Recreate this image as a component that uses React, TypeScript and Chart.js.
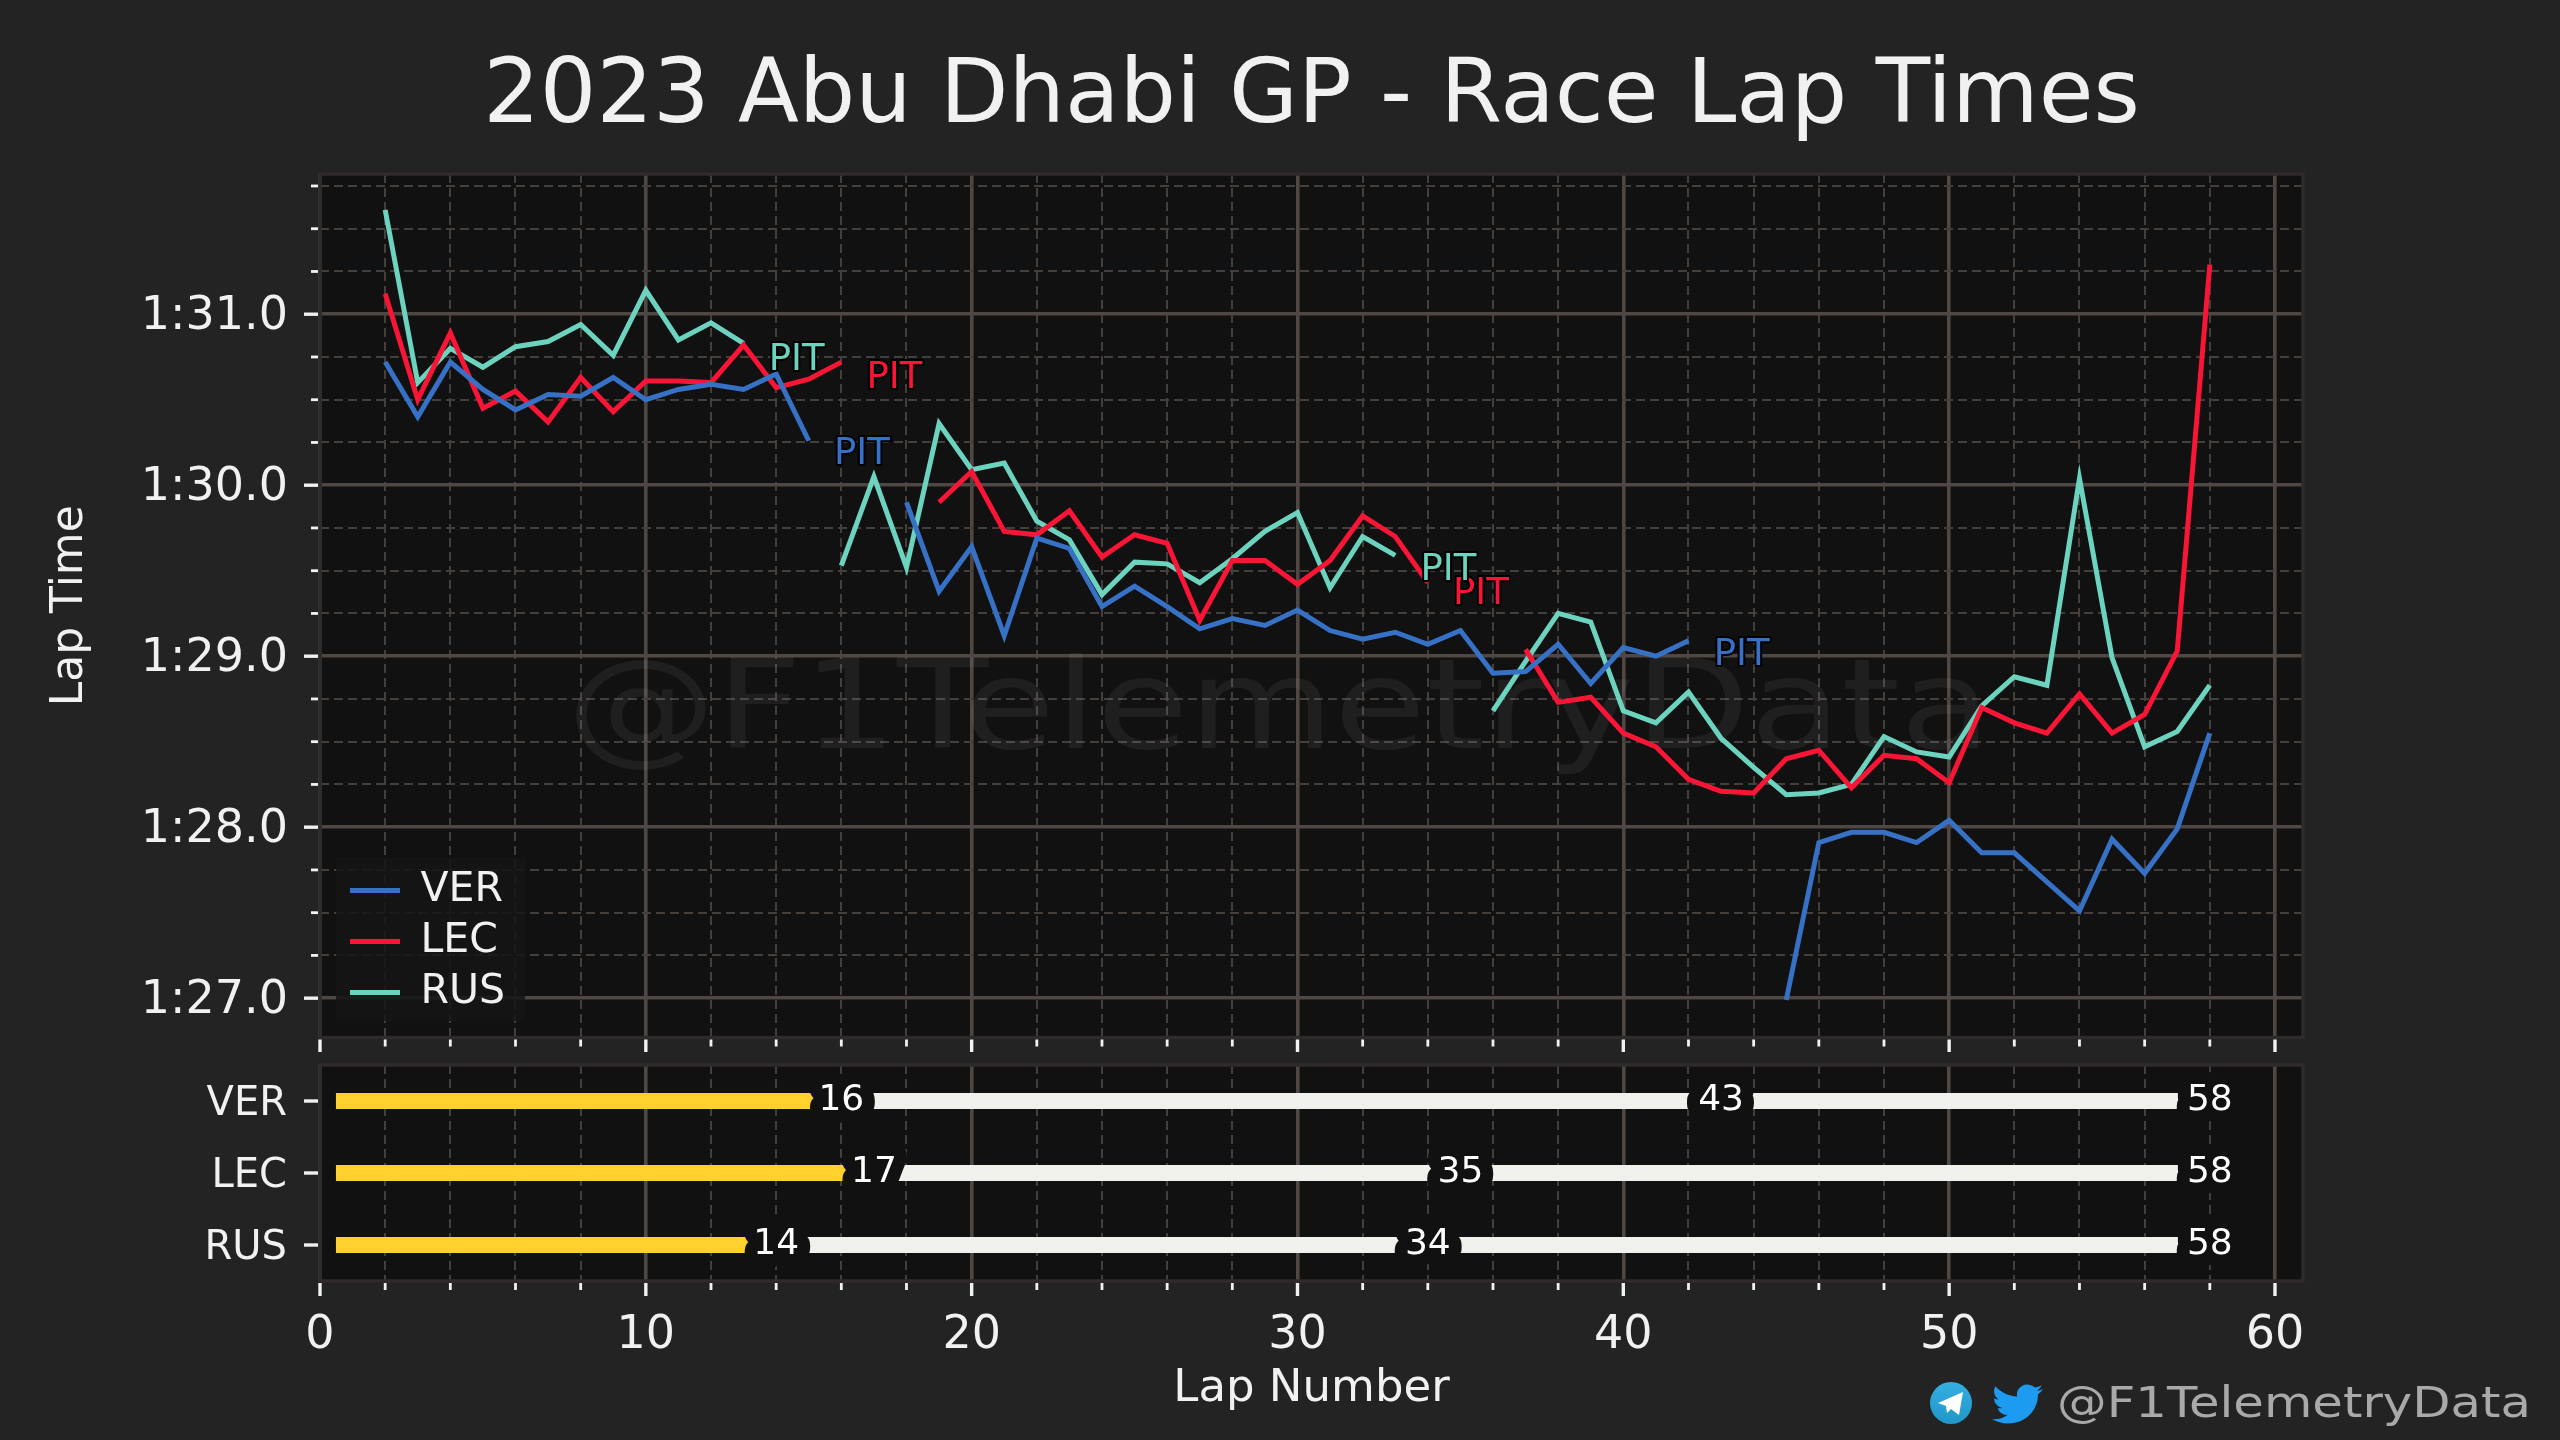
import React, { useEffect, useRef } from "react";
import { Chart, registerables } from "chart.js";

Chart.register(...registerables);

const FONT = "'DejaVu Sans'";
const TITLE = "2023 Abu Dhabi GP - Race Lap Times";
const WATERMARK = "@F1TelemetryData";
const LAP_START = 2;

const verLaps = [
  90.72, 90.40, 90.72, 90.56, 90.44, 90.53, 90.52, 90.63, 90.50, 90.56, 90.59, 90.56, 90.65, 90.26,
  null, null,
  89.90, 89.38, 89.64, 89.12, 89.69, 89.63, 89.29, 89.41, 89.29, 89.16, 89.22, 89.18, 89.27, 89.15, 89.10, 89.14, 89.07, 89.15, 88.90, 88.91, 89.07, 88.84, 89.05, 89.00, 89.09,
  null, null,
  86.99, 87.91, 87.97, 87.97, 87.91, 88.04, 87.85, 87.85, 87.68, 87.51, 87.93, 87.73, 87.99, 88.55,
];
const lecLaps = [
  91.12, 90.50, 90.89, 90.45, 90.55, 90.37, 90.63, 90.43, 90.61, 90.61, 90.60, 90.82, 90.57, 90.62, 90.72,
  null, null,
  89.90, 90.08, 89.73, 89.71, 89.85, 89.58, 89.71, 89.66, 89.21, 89.56, 89.56, 89.42, 89.56, 89.82, 89.70, 89.43,
  null, null,
  89.04, 88.73, 88.76, 88.55, 88.47, 88.28, 88.21, 88.20, 88.40, 88.45, 88.23, 88.42, 88.40, 88.26, 88.70, 88.61, 88.55, 88.78, 88.55, 88.66, 89.03, 91.29,
];
const rusLaps = [
  91.61, 90.60, 90.80, 90.69, 90.81, 90.84, 90.94, 90.76, 91.14, 90.85, 90.95, 90.83,
  null, null,
  89.53, 90.05, 89.52, 90.36, 90.09, 90.13, 89.79, 89.68, 89.36, 89.55, 89.54, 89.43, 89.57, 89.73, 89.84, 89.40, 89.70, 89.59,
  null, null,
  88.68, 88.97, 89.25, 89.20, 88.68, 88.61, 88.79, 88.52, 88.35, 88.19, 88.20, 88.25, 88.53, 88.44, 88.41, 88.71, 88.88, 88.83, 90.04, 88.99, 88.47, 88.56, 88.83,
];

const drivers = ["VER", "LEC", "RUS"];
const driverColors = ["#3671C6", "#F91536", "#6CD3BF"];
const lapSeries = [verLaps, lecLaps, rusLaps];

const pitLapsVer = [16, 43];
const pitLapsLec = [17, 35];
const pitLapsRus = [14, 34];
const pitLabelYVer = [90.2, 89.02];
const pitLabelYLec = [90.64, 89.38];
const pitLabelYRus = [90.745, 89.52];
const stintStart = 0.5;
const pitLaps = [pitLapsVer, pitLapsLec, pitLapsRus];
const pitLabelY = [pitLabelYVer, pitLabelYLec, pitLabelYRus];
const stintEnd3 = [58, 58, 58];
const stintColors = ["#FFD12E", "#F0F0EC", "#F0F0EC"];

const BG = "#232323";
const PLOT = "#111111";
const SPINE = "#2e2b2a";
const MAJOR = "#4e4743";
const MINOR = "#453f3c";
const TEXT = "#f1f1f1";

const X_MAX = 60.86;
const TOP_H = 1052;
const BOT_H = 388;
const PAD_RIGHT = 257;

function fitText(ctx: any, text: string, cx: number, cy: number, width: number, px: number, color: string) {
  ctx.save();
  ctx.font = `${px}px ${FONT}`;
  ctx.textAlign = "center";
  ctx.textBaseline = "middle";
  const m = ctx.measureText(text).width;
  ctx.translate(cx, cy);
  ctx.scale(width / m, 1);
  ctx.fillStyle = color;
  ctx.fillText(text, 0, 0);
  ctx.restore();
}

function drawTick(ctx: any, x1: number, y1: number, x2: number, y2: number, w: number) {
  ctx.lineWidth = w;
  ctx.strokeStyle = TEXT;
  ctx.beginPath();
  ctx.moveTo(x1, y1);
  ctx.lineTo(x2, y2);
  ctx.stroke();
}

const framePlugin = {
  id: "frame",
  beforeDraw(chart: any) {
    const { ctx, chartArea: a } = chart;
    ctx.save();
    ctx.fillStyle = BG;
    ctx.fillRect(0, 0, chart.width, chart.height);
    ctx.fillStyle = PLOT;
    ctx.fillRect(a.left, a.top, a.right - a.left, a.bottom - a.top);
    ctx.restore();
  },
  beforeDatasetsDraw(chart: any) {
    const { ctx, chartArea: a } = chart;
    ctx.save();
    ctx.strokeStyle = SPINE;
    ctx.lineWidth = 3.5;
    ctx.strokeRect(a.left, a.top, a.right - a.left, a.bottom - a.top);
    ctx.restore();
  },
  afterDraw(chart: any) {
    const { ctx, chartArea: a, scales } = chart;
    ctx.save();
    const xs = scales.x;
    xs.ticks.forEach((t: any, i: number) => {
      const major = t.value % 10 === 0;
      const px = xs.getPixelForTick(i);
      drawTick(ctx, px, a.bottom + 2, px, a.bottom + (major ? 15 : 9), major ? 3.4 : 2.8);
    });
    const ys = scales.y;
    ys.ticks.forEach((t: any, i: number) => {
      const major = ys.type === "category" || t.value % 1 === 0;
      const py = ys.getPixelForTick(i);
      drawTick(ctx, a.left - 2, py, a.left - (major ? 16 : 9), py, major ? 3.4 : 2.8);
    });
    ctx.restore();
  },
};

const topPlugin = {
  id: "topExtras",
  afterLayout(chart: any) {
    const l = chart.legend;
    if (!l) return;
    l.left = chart.chartArea.left + 20;
    l.right = chart.chartArea.right;
    l.top = 860;
    l.bottom = chart.chartArea.bottom;
    if (!l.__wrapped) {
      const orig = l.draw;
      l.__wrapped = true;
      l.draw = function () {
        const c = chart.ctx;
        c.save();
        c.fillStyle = "rgba(21,21,21,0.85)";
        c.fillRect(336, 858, 189, 163);
        c.restore();
        orig.call(l);
      };
    }
  },
  beforeDatasetsDraw(chart: any) {
    fitText(chart.ctx, WATERMARK, 1279, 716, 1425, 125, "rgba(255,255,255,0.06)");
  },
  afterDatasetsDraw(chart: any) {
    const { ctx, scales } = chart;
    ctx.save();
    ctx.font = `37px ${FONT}`;
    ctx.textAlign = "center";
    ctx.textBaseline = "middle";
    ctx.lineJoin = "round";
    pitLaps.forEach((laps, d) => {
      laps.forEach((lap, i) => {
        const px = scales.x.getPixelForValue(lap + 0.63);
        const py = scales.y.getPixelForValue(pitLabelY[d][i]) + 3;
        ctx.lineWidth = 4;
        ctx.strokeStyle = "#000000";
        ctx.strokeText("PIT", px, py);
        ctx.fillStyle = driverColors[d];
        ctx.fillText("PIT", px, py);
      });
    });
    ctx.restore();
  },
};

const TWITTER =
  "M23.953 4.57a10 10 0 01-2.825.775 4.958 4.958 0 002.163-2.723c-.951.555-2.005.959-3.127 1.184a4.92 4.92 0 00-8.384 4.482C7.69 8.095 4.067 6.13 1.64 3.162a4.822 4.822 0 00-.666 2.475c0 1.71.87 3.213 2.188 4.096a4.904 4.904 0 01-2.228-.616v.06a4.923 4.923 0 003.946 4.827 4.996 4.996 0 01-2.212.085 4.936 4.936 0 004.604 3.417 9.867 9.867 0 01-6.102 2.105c-.39 0-.779-.023-1.17-.067a13.995 13.995 0 007.557 2.209c9.053 0 13.998-7.496 13.998-13.985 0-.21 0-.42-.015-.63A9.935 9.935 0 0024 4.59z";

const bottomPlugin = {
  id: "bottomExtras",
  afterDatasetsDraw(chart: any) {
    const { ctx, scales } = chart;
    ctx.save();
    ctx.font = `36px ${FONT}`;
    ctx.textAlign = "center";
    ctx.textBaseline = "middle";
    ctx.lineJoin = "round";
    drivers.forEach((name, d) => {
      const py = scales.y.getPixelForValue(d);
      const ends = [pitLaps[d][0], pitLaps[d][1], stintEnd3[d]];
      ends.forEach((lap) => {
        const px = scales.x.getPixelForValue(lap);
        ctx.lineWidth = 26;
        ctx.strokeStyle = PLOT;
        ctx.strokeText(String(lap), px, py);
        ctx.fillStyle = "#ffffff";
        ctx.fillText(String(lap), px, py);
      });
    });
    ctx.restore();
  },
  afterDraw(chart: any) {
    const { ctx } = chart;
    const off = TOP_H;
    ctx.save();
    fitText(ctx, WATERMARK, 2294, 1406 - off, 474, 42, "#a9a9a9");
    const g = ctx.createLinearGradient(0, 1382 - off, 0, 1424 - off);
    g.addColorStop(0, "#37AEE2");
    g.addColorStop(1, "#1E96C8");
    ctx.fillStyle = g;
    ctx.beginPath();
    ctx.arc(1951, 1403 - off, 21, 0, Math.PI * 2);
    ctx.fill();
    ctx.fillStyle = "#ffffff";
    ctx.beginPath();
    ctx.moveTo(1938, 1403 - off);
    ctx.lineTo(1963, 1392 - off);
    ctx.lineTo(1959, 1415 - off);
    ctx.lineTo(1951, 1409 - off);
    ctx.lineTo(1947, 1413 - off);
    ctx.lineTo(1946, 1406 - off);
    ctx.closePath();
    ctx.fill();
    ctx.translate(1992, 1380 - off);
    ctx.scale(2.13, 2.0);
    ctx.fillStyle = "#1D9BF0";
    ctx.fill(new Path2D(TWITTER));
    ctx.restore();
  },
};

function gridOpts(isMajor: (v: number) => boolean) {
  return {
    drawTicks: false,
    color: (c: any) => (c.tick && isMajor(c.tick.value) ? MAJOR : MINOR),
    lineWidth: (c: any) => (c.tick && isMajor(c.tick.value) ? 3.6 : 2),
  };
}
function borderOpts(isMajor: (v: number) => boolean) {
  return {
    display: false,
    dash: (c: any) => (c.tick && isMajor(c.tick.value) ? [] : [9, 5]),
  };
}
const isX10 = (v: number) => v % 10 === 0;
const isWhole = (v: number) => v % 1 === 0;

function fixWidth(s: any) {
  s.width = 320;
  s.paddingTop = 0;
  s.paddingBottom = 0;
}

function xScale(showLabels: boolean, height: number) {
  return {
    type: "linear",
    min: 0,
    max: X_MAX,
    grid: gridOpts(isX10),
    border: borderOpts(isX10),
    afterFit: (s: any) => {
      s.height = height;
      s.paddingLeft = 0;
      s.paddingRight = 0;
    },
    ticks: {
      display: showLabels,
      stepSize: 2,
      includeBounds: false,
      autoSkip: false,
      maxRotation: 0,
      padding: 27,
      color: TEXT,
      font: { family: FONT, size: 46 },
      callback: (v: number) => (v % 10 === 0 ? String(v) : ""),
    },
    title: showLabels
      ? {
          display: true,
          text: "Lap Number",
          color: TEXT,
          font: { family: FONT, size: 45 },
          padding: { top: 0, bottom: 24 },
        }
      : { display: false },
  };
}

export default function App() {
  const topRef = useRef<HTMLCanvasElement>(null);
  const botRef = useRef<HTMLCanvasElement>(null);

  useEffect(() => {
    document.body.style.margin = "0";
    document.body.style.background = BG;

    const top = new Chart(topRef.current as any, {
      type: "line",
      plugins: [framePlugin, topPlugin],
      data: {
        datasets: drivers.map((name, d) => ({
          label: name,
          data: lapSeries[d].map((y, i) => ({ x: LAP_START + i, y })),
          borderColor: driverColors[d],
          backgroundColor: driverColors[d],
          borderWidth: 5,
          pointRadius: 0,
          tension: 0,
          spanGaps: false,
          borderJoinStyle: "miter",
          borderCapStyle: "butt",
        })),
      },
      options: {
        animation: false,
        responsive: false,
        devicePixelRatio: 1,
        layout: { padding: { left: 0, right: PAD_RIGHT, top: 0, bottom: 0 } },
        plugins: {
          tooltip: { enabled: false },
          title: {
            display: true,
            text: TITLE,
            fullSize: false,
            color: TEXT,
            font: { family: FONT, size: 89, weight: "normal", lineHeight: 1.2 },
            padding: { top: 45, bottom: 22.2 },
          },
          legend: {
            position: "chartArea",
            align: "start",
            labels: {
              boxWidth: 50,
              boxHeight: 5,
              padding: 10,
              color: TEXT,
              font: { family: FONT, size: 41 },
              generateLabels: (chart: any) =>
                Chart.defaults.plugins.legend.labels
                  .generateLabels(chart)
                  .map((item: any) => ({ ...item, lineWidth: 0 })),
            },
          },
        },
        scales: {
          x: xScale(false, TOP_H - 1037.5),
          y: {
            type: "linear",
            min: 86.77,
            max: 91.82,
            grid: gridOpts(isWhole),
            border: borderOpts(isWhole),
            afterFit: fixWidth,
            ticks: {
              stepSize: 0.25,
              includeBounds: false,
              autoSkip: false,
              padding: 32,
              labelOffset: 3,
              color: TEXT,
              font: { family: FONT, size: 46 },
              callback: (v: number) => (v % 1 === 0 ? `1:${v - 60}.0` : ""),
            },
            title: {
              display: true,
              text: "Lap Time",
              color: TEXT,
              font: { family: FONT, size: 44 },
              padding: { top: 44.6, bottom: 0 },
            },
          },
        },
      },
    } as any);

    const bot = new Chart(botRef.current as any, {
      type: "bar",
      plugins: [framePlugin, bottomPlugin],
      data: {
        labels: drivers,
        datasets: [0, 1, 2].map((s) => ({
          label: `Stint ${s + 1}`,
          data: drivers.map((_, d) => {
            const ends = [pitLaps[d][0], pitLaps[d][1], stintEnd3[d]];
            return [s === 0 ? stintStart : ends[s - 1], ends[s]];
          }),
          backgroundColor: stintColors[s],
          barThickness: 15.5,
          grouped: false,
        })),
      },
      options: {
        indexAxis: "y",
        animation: false,
        responsive: false,
        devicePixelRatio: 1,
        layout: { padding: { left: 0, right: PAD_RIGHT, top: 13, bottom: 0 } },
        plugins: {
          tooltip: { enabled: false },
          legend: { display: false },
        },
        scales: {
          x: xScale(true, 159),
          y: {
            type: "category",
            grid: { display: false, drawTicks: false },
            border: { display: false },
            afterFit: fixWidth,
            ticks: {
              padding: 33,
              labelOffset: 4,
              color: TEXT,
              font: { family: FONT, size: 40 },
            },
          },
        },
      },
    } as any);

    return () => {
      top.destroy();
      bot.destroy();
    };
  }, []);

  return (
    <div style={{ position: "relative", width: 2560, height: 1440, background: BG, overflow: "hidden" }}>
      <canvas ref={topRef} width={2560} height={TOP_H} style={{ position: "absolute", left: 0, top: 0, display: "block" }} />
      <canvas ref={botRef} width={2560} height={BOT_H} style={{ position: "absolute", left: 0, top: TOP_H, display: "block" }} />
    </div>
  );
}
